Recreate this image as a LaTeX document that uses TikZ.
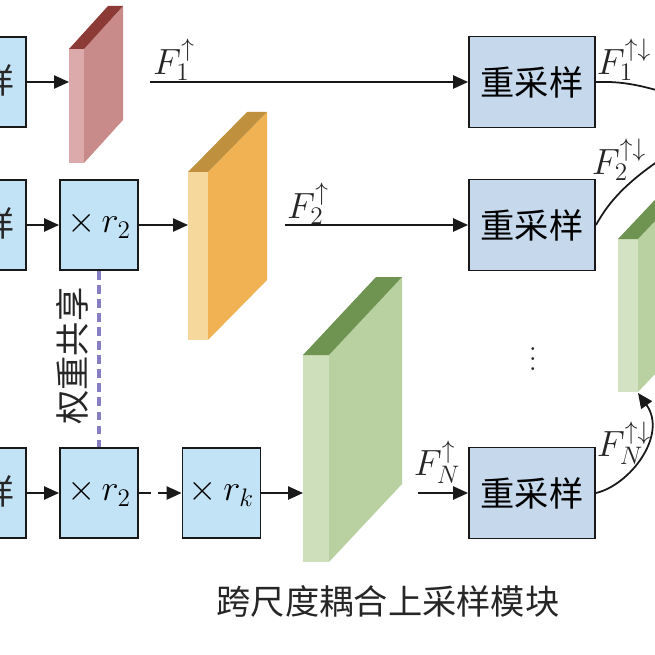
\documentclass[tikz,border=0pt]{standalone}
\usepackage{fontspec}
\newfontfamily\cjk{Noto Sans CJK SC}
\usetikzlibrary{arrows.meta}

\definecolor{skyfill}{HTML}{C2E3F5}
\definecolor{resfill}{HTML}{C6D8EC}
\definecolor{pinkfront}{HTML}{DCAAAA}
\definecolor{pinkside}{HTML}{C98A8A}
\definecolor{pinktop}{HTML}{8C3A36}
\definecolor{orangefront}{HTML}{F7D89C}
\definecolor{orangeside}{HTML}{F1B253}
\definecolor{orangetop}{HTML}{BF913F}
\definecolor{greenfront}{HTML}{CDDFBB}
\definecolor{greenside}{HTML}{B9D1A0}
\definecolor{greentop}{HTML}{6F9350}
\definecolor{sharepurple}{HTML}{857EC2}

\newcommand{\bigtext}{\fontsize{19.5}{22}\selectfont}
\newcommand{\mathtext}{\fontsize{20.74}{22}\selectfont}
% x, top, bottom, front width, depth x, depth y, colours
\newcommand{\featblock}[9]{
  \fill[#7] (#1, #2) rectangle ({#1+#4}, #3);
  \fill[#8] ({#1+#4}, #2) -- ({#1+#4+#5}, {#2-#6}) -- ({#1+#4+#5}, {#3-#6}) -- ({#1+#4}, #3) -- cycle;
  \fill[#9] (#1, #2) -- ({#1+#4}, #2) -- ({#1+#4+#5}, {#2-#6}) -- ({#1+#5}, {#2-#6}) -- cycle;
}

\begin{document}
\begin{tikzpicture}[x=0.02cm, y=-0.02cm,
  >={Triangle[length=8.5pt, width=7.5pt]},
  box/.style={draw=black!90, line width=1.1pt, fill=skyfill, inner sep=0pt,
    minimum width=1.56cm, minimum height=1.8cm, font=\mathtext},
  resbox/.style={box, fill=resfill, minimum width=2.52cm, minimum height=1.82cm, font=\cjk\bigtext},
  flow/.style={->, line width=1pt, black!90},
  lbl/.style={inner sep=0pt, font=\mathtext, text=black!85}]
  \path[use as bounding box] (0, 0) rectangle (655, 655);
  \clip (0, 0) rectangle (655, 655);

  \featblock{69}{49}{163}{15}{39}{43}{pinkfront}{pinkside}{pinktop}
  \featblock{188}{172}{340}{20}{59}{60}{orangefront}{orangeside}{orangetop}
  \featblock{303}{355}{562}{26}{73}{78}{greenfront}{greenside}{greentop}
  \featblock{618}{239}{392}{20}{50}{53}{greenfront!90!white}{greenside}{greentop}

  \node[box] (up1) at (-13, 82) {};
  \node[box] (up2) at (-13, 225) {};
  \node[box] (up3) at (-13, 493) {};
  \node[lbl, font=\cjk\bigtext] (up1t) at (-2, 80) {样};
  \node[lbl, font=\cjk\bigtext] (up2t) at (-2, 223) {样};
  \node[lbl, font=\cjk\bigtext] (up3t) at (-2, 491) {样};

  \node[box] (mr2a) at (99, 225) {$\times\, r_2$};
  \node[box] (mr2b) at (99, 493) {$\times\, r_2$};
  \node[box] (mrk) at (221.5, 493) {$\times\, r_k$};

  \node[resbox] (res1) at (532, 82) {重采样};
  \node[resbox] (res2) at (532, 225) {重采样};
  \node[resbox] (res3) at (532, 493) {重采样};

  \coordinate (pink) at (69, 82);
  \coordinate (orange) at (188, 225);
  \coordinate (green) at (303, 493);
  \coordinate (f1s) at (150, 82);
  \coordinate (f2s) at (285, 225);
  \coordinate (fns) at (418, 493);
  \coordinate (f1e) at (700, 105);
  \coordinate (f2e) at (700, 135);
  \coordinate (fne) at (638, 393);

  \draw[flow] (up1.east) -- (pink);
  \draw[flow] (up2.east) -- (mr2a.west);
  \draw[flow] (mr2a.east) -- (orange);
  \draw[flow] (up3.east) -- (mr2b.west);
  \draw[flow, dash pattern=on 6.8pt off 4pt] (mr2b.east) -- (mrk.west);
  \draw[flow] (mrk.east) -- (green);

  \draw[flow] (f1s) -- (res1.west);
  \draw[flow] (f2s) -- (res2.west);
  \draw[flow] (fns) -- (res3.west);

  \draw[line width=1pt, black!90] (res1.east) .. controls (625, 81) and (650, 86) .. (f1e);
  \draw[line width=1pt, black!90] (res2.east) .. controls (610, 200) and (630, 175) .. (f2e);
  \draw[flow] (res3.east) .. controls (630, 485) and (668, 435) .. (fne);

  \draw[sharepurple, line width=2pt, dash pattern=on 5pt off 3pt] (mr2a.south) -- (mr2b.north);
  \node[lbl, rotate=90, font=\cjk\bigtext] (share) at (72, 356) {权重共享};

  \node[lbl] (f1in) at (174, 60) {$F_1^{\uparrow}$};
  \node[lbl] (f2in) at (308, 204) {$F_2^{\uparrow}$};
  \node[lbl] (fnin) at (437, 462) {$F_N^{\uparrow}$};
  \node[lbl] (f1out) at (624, 60) {$F_1^{\uparrow\downarrow}$};
  \node[lbl] (f2out) at (619, 160) {$F_2^{\uparrow\downarrow}$};
  \node[lbl] (fnout) at (624, 443) {$F_N^{\uparrow\downarrow}$};

  \node[lbl, font=\fontsize{12}{12}\selectfont, scale=1.4] (dots) at (533, 352) {$\vdots$};
  \node[lbl, font=\cjk\bigtext] (caption) at (388, 601) {跨尺度耦合上采样模块};
\end{tikzpicture}
\end{document}
